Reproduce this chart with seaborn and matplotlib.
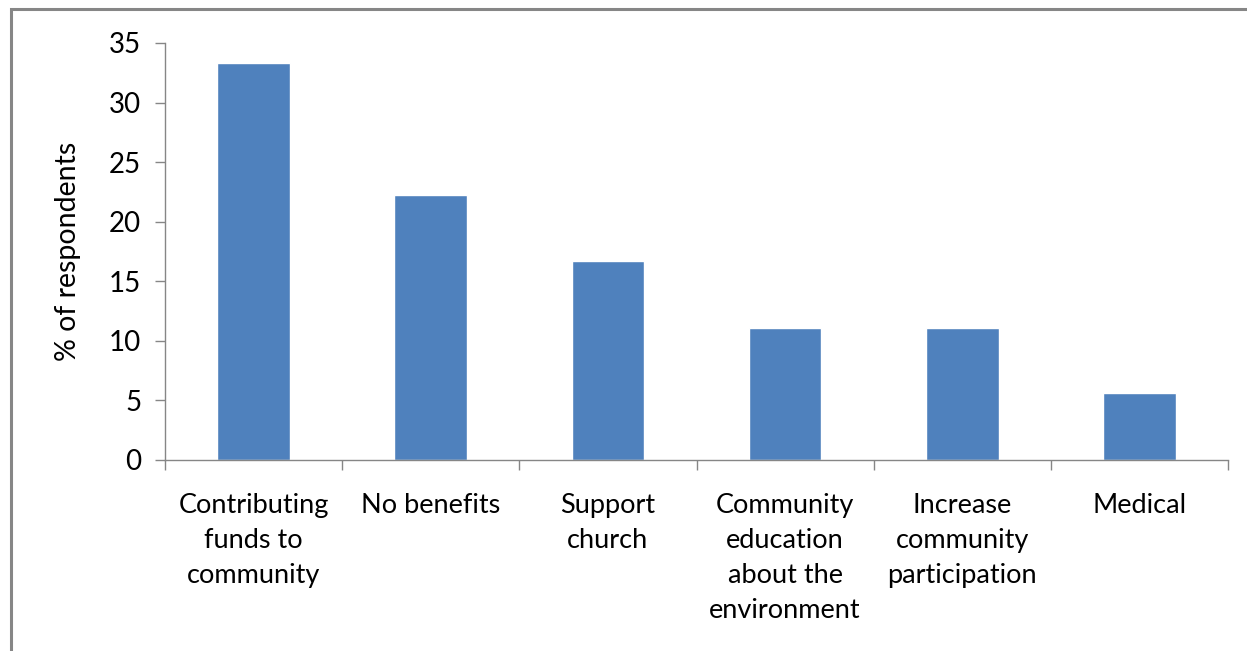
#%% import tools and libraries
import pandas as pd
import seaborn as sb
import matplotlib.pyplot as plt
from matplotlib.patches import Rectangle

#%% data
categories = ['Contributing\nfunds to\ncommunity', 'No benefits', 'Support\nchurch',
              'Community\neducation\nabout the\nenvironment', 'Increase\ncommunity\nparticipation',
              'Medical']
percent = [33.3, 22.2, 16.7, 11.1, 11.1, 5.6]
yticks = [0, 5, 10, 15, 20, 25, 30, 35]

df = pd.DataFrame({'benefit': categories, 'percent': percent})

#%% plot
sb.set_style('white')
plt.rcParams['font.family'] = ['Lato', 'DejaVu Sans']
plt.rcParams['text.color'] = 'black'
plt.rcParams['axes.labelcolor'] = 'black'
plt.rcParams['xtick.labelcolor'] = 'black'
plt.rcParams['ytick.labelcolor'] = 'black'
grey = '#868686'

fig = plt.figure(figsize=(12.47, 6.51), dpi=100)
ax = fig.add_axes([0.1323, 0.2934, 0.8525, 0.6406])
sb.barplot(data=df, x='benefit', y='percent', color='#4F81BD', width=0.41,
           saturation=1, ax=ax)

ax.set_xlim(-0.5, len(categories) - 0.5)
ax.set_ylim(0, 35)
ax.set_yticks(yticks)
ax.tick_params(axis='y', direction='out', length=7, width=1, color=grey,
               labelsize=20, pad=10, left=True, labelcolor='black')
ax.tick_params(axis='x', which='major', length=0, labelsize=19.5, pad=24,
               labelcolor='black')
ax.set_xticks([i - 0.5 for i in range(len(categories) + 1)], minor=True)
ax.tick_params(axis='x', which='minor', direction='out', length=7, width=1,
               color=grey, bottom=True)
for lab in ax.get_xticklabels():
    lab.set_linespacing(1.5)
    lab.set_verticalalignment('top')

for side in ['top', 'right']:
    ax.spines[side].set_visible(False)
for side in ['left', 'bottom']:
    ax.spines[side].set_color(grey)
    ax.spines[side].set_linewidth(1)

ax.set_xlabel('')
ax.set_ylabel('% of respondents', fontsize=20.5, labelpad=20, color='black')

# outer chart frame (only top and left edges visible)
fig.patches.append(Rectangle((0.0085, -0.05), 1.1, 1.036, transform=fig.transFigure,
                             fill=False, edgecolor=grey, linewidth=2.2))

plt.savefig('out.png', dpi=100)
